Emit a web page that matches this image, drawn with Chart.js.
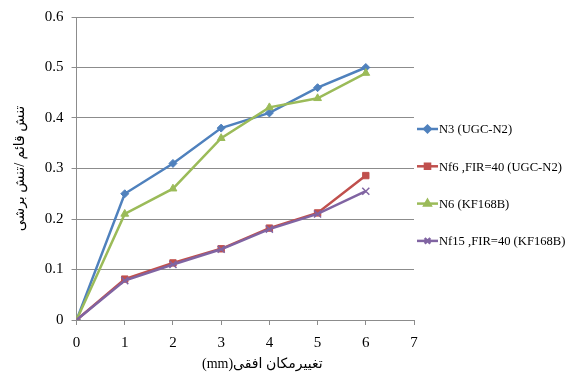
<!DOCTYPE html>
<html>
<head>
<meta charset="utf-8">
<script src="https://cdn.jsdelivr.net/npm/chart.js@4/dist/chart.umd.min.js"></script>
<style>
  html, body { margin: 0; padding: 0; background: #ffffff; }
  #wrap { width: 570px; height: 380px; position: relative; }
</style>
</head>
<body>
<div id="wrap"><canvas id="c" width="570" height="380"></canvas></div>
<script>
// Horizontal displacement (mm)
const xValues = [0, 1, 2, 3, 4, 5, 6];
const n3 = [0, 0.25, 0.31, 0.38, 0.41, 0.46, 0.50];
const nf6 = [0, 0.081, 0.113, 0.141, 0.182, 0.212, 0.286];
const n6 = [0, 0.21, 0.26, 0.36, 0.421, 0.439, 0.489];
const nf15 = [0, 0.078, 0.110, 0.140, 0.180, 0.210, 0.255];

const seriesNames = ['N3 (UGC-N2)', 'Nf6 ,FIR=40 (UGC-N2)', 'N6 (KF168B)', 'Nf15 ,FIR=40 (KF168B)'];
const xTickValues = [0, 1, 2, 3, 4, 5, 6, 7];
const yTickValues = [0, 0.1, 0.2, 0.3, 0.4, 0.5, 0.6];
const xTitle = '\u202Bتغییرمکان افقی(mm)\u202C';
const yTitle = 'تنش قائم /تنش برشی';

const serif = "'Liberation Serif', 'Times New Roman', serif";
const titleFont = "'Liberation Serif', 'DejaVu Sans', serif";

function toPoints(ys) { return ys.map((y, i) => ({ x: xValues[i], y })); }

const styles = [
  { color: '#4F81BD', pointStyle: 'rectRot', radius: 4 },
  { color: '#C0504D', pointStyle: 'rect', radius: 4.5 },
  { color: '#9BBB59', pointStyle: 'triangle', radius: 4.5 },
  { color: '#8064A2', pointStyle: 'crossRot', radius: 5 }
];
const seriesData = [n3, nf6, n6, nf15];

const datasets = seriesData.map((ys, i) => ({
  label: seriesNames[i],
  data: toPoints(ys),
  borderColor: styles[i].color,
  backgroundColor: styles[i].color,
  pointBackgroundColor: styles[i].color,
  pointBorderColor: styles[i].color,
  pointStyle: styles[i].pointStyle,
  pointRadius: styles[i].radius,
  pointBorderWidth: i === 3 ? 1.5 : 1,
  borderWidth: 2.5,
  tension: 0,
  fill: false,
  order: 4 - i // later series drawn on top
}));

// Legend with a short line and the series marker, drawn in the right margin
const lineLegend = {
  id: 'lineLegend',
  afterDraw(chart) {
    const ctx = chart.ctx;
    const x0 = chart.chartArea.right + 3, top = 129, gap = 37.3;
    ctx.save();
    chart.data.datasets.forEach((ds, i) => {
      const y = top + i * gap;
      ctx.strokeStyle = ds.borderColor;
      ctx.fillStyle = ds.borderColor;
      ctx.lineWidth = 2.5;
      ctx.beginPath();
      ctx.moveTo(x0, y);
      ctx.lineTo(x0 + 21, y);
      ctx.stroke();
      Chart.helpers.drawPoint(ctx, {
        pointStyle: ds.pointStyle,
        radius: ds.pointRadius * 0.8,
        borderWidth: ds.pointBorderWidth,
        rotation: 0
      }, x0 + 10.5, y);
      ctx.fillStyle = '#000';
      ctx.font = '12.6px ' + serif;
      ctx.textAlign = 'left';
      ctx.textBaseline = 'middle';
      ctx.fillText(ds.label, x0 + 22, y + 1);
    });
    ctx.restore();
  }
};

// Horizontal axis title, set a little right of the plot centre
const xAxisTitle = {
  id: 'xAxisTitle',
  afterDraw(chart) {
    const ctx = chart.ctx;
    const a = chart.chartArea;
    ctx.save();
    ctx.fillStyle = '#000';
    ctx.font = '14px ' + titleFont;
    ctx.textAlign = 'center';
    ctx.textBaseline = 'middle';
    ctx.fillText(xTitle, (a.left + a.right) / 2 + 17, a.bottom + 44);
    ctx.restore();
  }
};

const chart = new Chart(document.getElementById('c'), {
  type: 'line',
  data: { datasets },
  options: {
    responsive: false,
    animation: false,
    devicePixelRatio: 1,
    layout: { padding: { top: 8, right: 156, left: 12, bottom: 19 } },
    plugins: {
      legend: { display: false },
      tooltip: { enabled: false }
    },
    scales: {
      x: {
        type: 'linear',
        min: 0,
        max: 7,
        afterBuildTicks(scale) { scale.ticks = xTickValues.map(v => ({ value: v })); },
        ticks: {
          color: '#000',
          font: { family: serif, size: 15 },
          padding: 9,
          callback: v => String(v)
        },
        grid: { display: true, drawOnChartArea: false, drawTicks: true, tickLength: 5, color: '#8c8c8c' },
        border: { display: true, color: '#8c8c8c', width: 1 },
        title: { display: false }
      },
      y: {
        min: 0,
        max: 0.6,
        afterBuildTicks(scale) { scale.ticks = yTickValues.map(v => ({ value: v })); },
        ticks: {
          color: '#000',
          font: { family: serif, size: 15 },
          padding: 8,
          callback: v => String(Number(v.toFixed(1)))
        },
        grid: { color: '#8c8c8c', lineWidth: 1, tickLength: 5, drawTicks: true },
        border: { display: true, color: '#8c8c8c', width: 1 },
        title: {
          display: true,
          text: yTitle,
          color: '#000',
          font: { family: titleFont, size: 14 },
          padding: { top: 0, bottom: 8 }
        }
      }
    }
  },
  plugins: [lineLegend, xAxisTitle]
});
</script>
</body>
</html>
